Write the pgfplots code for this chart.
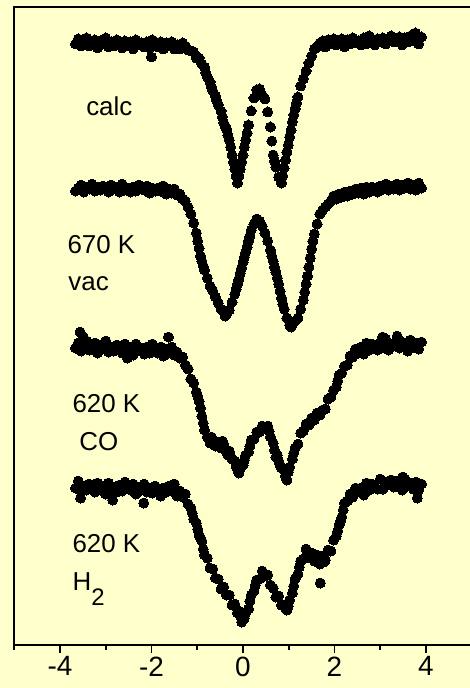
\documentclass[border=0pt]{standalone}
\usepackage{fontspec}
\setmainfont{Liberation Sans}
\usepackage{pgfplots}
\pgfplotsset{compat=1.18}
\usetikzlibrary{backgrounds}
\definecolor{paper}{HTML}{FFFFCC}
\pgfplotsset{dots/.style={black, only marks, mark=*, mark size=5bp,
    mark options={fill=black, draw=black, line width=0pt}}}

\begin{document}
\begin{tikzpicture}
\begin{axis}[
  scale only axis,
  width=457.5bp, height=637.7bp,
  xmin=-5, xmax=5,
  ymin=7.3, ymax=645, y dir=reverse,
  axis line style={line width=1.8bp},
  xtick={-4,-2,0,2,4},
  minor xtick={-5,-3,-1,1,3,5},
  xtick pos=left,
  ytick=\empty,
  tick align=outside,
  major tick length=8bp, minor tick length=5bp,
  every tick/.style={black, line width=1.8bp},
  tick label style={font=\fontsize{28}{30}\selectfont},
  /pgf/number format/assume math mode=true,
  clip=false,
]
\coordinate (bl) at (axis cs:-5,645);

% calc
\addplot[dots] coordinates {
(-3.66,44) (-3.60,39) (-3.54,46) (-3.48,41) (-3.42,38) (-3.36,46) (-3.30,43) (-3.24,40)
(-3.18,48) (-3.12,41) (-3.06,44) (-3.00,38) (-2.94,47) (-2.88,42) (-2.82,46) (-2.76,40)
(-2.70,44) (-2.64,48) (-2.58,41) (-2.52,46) (-2.46,42) (-2.40,49) (-2.34,40) (-2.28,45)
(-2.22,43) (-2.16,47) (-2.10,42) (-2.04,48) (-2.00,57) (-1.98,40) (-1.92,45) (-1.86,47)
(-1.80,42) (-1.74,49) (-1.68,43) (-1.62,46) (-1.56,42) (-1.50,49) (-1.44,45) (-1.38,49)
(-1.32,43) (-1.26,46) (-1.20,50) (-1.14,51) (-1.08,52) (-1.02,58) (-0.96,58) (-0.90,64)
(-0.84,67) (-0.81,73) (-0.78,77) (-0.72,82) (-0.69,87) (-0.66,91) (-0.60,96) (-0.57,101)
(-0.54,105) (-0.48,111) (-0.45,117)
(-0.42,123) (-0.39,126) (-0.36,129) (-0.33,135) (-0.30,140) (-0.27,147) (-0.24,155)
(-0.21,162) (-0.18,169) (-0.15,176) (-0.12,183) (-0.09,176) (-0.06,169) (-0.03,162)
(0.00,155) (0.03,147) (0.06,140) (0.09,133) (0.12,125) (0.18,111) (0.24,98) (0.30,90)
(0.36,89) (0.42,95) (0.48,99) (0.54,112) (0.60,127) (0.63,141) (0.66,155) (0.69,161)
(0.72,167) (0.78,177) (0.84,183) (0.87,176) (0.90,168) (0.93,160) (0.96,152) (0.99,145)
(1.02,137) (1.05,130) (1.08,122) (1.11,115) (1.14,109) (1.17,103) (1.20,97) (1.26,86)
(1.32,79) (1.38,71)
(1.44,63) (1.50,56) (1.56,49) (1.62,47) (1.68,43) (1.74,41) (1.80,47) (1.86,40)
(1.92,44) (1.98,39) (2.04,45) (2.10,42) (2.16,39) (2.22,47) (2.28,40) (2.34,44)
(2.40,38) (2.46,43) (2.52,41) (2.58,45) (2.64,38) (2.70,44) (2.76,36) (2.82,41)
(2.88,45) (2.94,39) (3.00,42) (3.06,38) (3.12,44) (3.18,40) (3.24,36) (3.30,42)
(3.36,40) (3.42,37) (3.48,45) (3.54,38) (3.60,42) (3.66,36) (3.72,41) (3.77,33)
(3.78,39) (3.84,44) (3.90,37)
};

% 670 K, vacuum
\addplot[dots] coordinates {
(-3.66,191) (-3.60,188) (-3.54,185) (-3.48,192) (-3.42,187) (-3.36,189) (-3.30,184)
(-3.24,191) (-3.18,187) (-3.12,190) (-3.06,186) (-3.00,188) (-2.94,192) (-2.88,185)
(-2.82,189) (-2.76,187) (-2.70,192) (-2.64,184) (-2.58,190) (-2.52,188) (-2.46,192)
(-2.40,187) (-2.34,191) (-2.28,185) (-2.22,189) (-2.16,190) (-2.10,186) (-2.04,193)
(-1.98,188) (-1.92,191) (-1.86,188) (-1.80,191) (-1.74,186) (-1.68,194) (-1.62,189)
(-1.56,193) (-1.50,189) (-1.44,195) (-1.38,194) (-1.32,199) (-1.26,201) (-1.20,207)
(-1.14,214) (-1.08,223) (-1.02,233) (-0.99,241) (-0.96,248) (-0.93,256) (-0.90,261)
(-0.87,266) (-0.84,270) (-0.78,278) (-0.72,286) (-0.66,291) (-0.60,297) (-0.54,303)
(-0.48,309)
(-0.42,312) (-0.39,316) (-0.36,314) (-0.30,310) (-0.24,302) (-0.18,294) (-0.15,289)
(-0.12,284) (-0.09,279)
(-0.06,273) (-0.03,268) (0.00,262) (0.03,257) (0.06,252) (0.09,247) (0.12,241)
(0.15,236) (0.18,230) (0.24,224) (0.30,219)
(0.36,221) (0.42,226) (0.48,233) (0.54,241) (0.60,250) (0.63,256) (0.66,261) (0.69,267)
(0.72,272) (0.75,278)
(0.78,284) (0.81,291) (0.84,298) (0.87,304) (0.90,309) (0.96,318) (1.02,325) (1.05,327)
(1.08,324)
(1.14,321) (1.20,318) (1.26,309) (1.32,300) (1.35,292) (1.38,284) (1.41,276) (1.44,267)
(1.47,258) (1.50,249) (1.53,241) (1.56,234) (1.62,224) (1.68,214) (1.74,210)
(1.80,207) (1.86,204) (1.92,201) (1.98,196) (2.04,199) (2.10,194) (2.16,197)
(2.22,192) (2.28,196) (2.34,191) (2.40,194) (2.46,189) (2.52,193) (2.58,188)
(2.64,194) (2.70,187) (2.76,192) (2.82,187) (2.88,190) (2.94,192) (3.00,186)
(3.06,189) (3.12,184) (3.18,190) (3.24,186) (3.30,189) (3.36,184) (3.42,190)
(3.48,185) (3.54,188) (3.60,183) (3.66,189) (3.72,185) (3.78,190) (3.84,183) (3.90,188)
};

% 620 K, CO
\addplot[dots] coordinates {
(-3.66,348) (-3.60,343) (-3.56,332) (-3.54,351) (-3.49,337) (-3.48,345) (-3.42,341)
(-3.36,350) (-3.30,347) (-3.24,343) (-3.18,353) (-3.12,345) (-3.06,348) (-3.00,341)
(-2.94,352) (-2.88,347) (-2.82,351) (-2.76,345) (-2.70,348) (-2.64,353) (-2.58,344)
(-2.53,358) (-2.52,351) (-2.46,347) (-2.40,355) (-2.34,344) (-2.28,350) (-2.22,348)
(-2.16,354) (-2.10,347) (-2.04,353) (-1.98,344) (-1.92,350) (-1.86,353) (-1.80,347)
(-1.74,356) (-1.68,349) (-1.63,337) (-1.62,353) (-1.56,347) (-1.50,355) (-1.44,352)
(-1.38,358) (-1.32,357) (-1.26,365) (-1.20,369) (-1.14,379) (-1.08,383) (-1.02,392)
(-0.99,396) (-0.96,401) (-0.93,408) (-0.90,416) (-0.87,423) (-0.84,430) (-0.78,437)
(-0.72,443) (-0.69,437) (-0.66,440)
(-0.63,445) (-0.60,446) (-0.54,442) (-0.51,447) (-0.48,448) (-0.45,441) (-0.42,444)
(-0.36,452) (-0.33,455) (-0.30,451) (-0.27,456) (-0.24,459) (-0.18,461) (-0.15,466)
(-0.12,469) (-0.09,473) (-0.06,468) (0.00,465) (0.03,460) (0.06,455) (0.12,452)
(0.15,446) (0.18,440)
(0.24,439) (0.30,432) (0.36,432) (0.42,426) (0.48,427) (0.54,426) (0.57,431) (0.60,437)
(0.66,443) (0.69,450) (0.72,457) (0.75,455) (0.78,461) (0.81,465) (0.84,468) (0.90,470)
(0.93,476) (0.96,480) (0.99,472) (1.02,467) (1.08,459) (1.11,453) (1.14,448) (1.20,444)
(1.26,433) (1.32,431) (1.38,424) (1.44,425) (1.50,418) (1.56,420) (1.62,413)
(1.68,415) (1.74,410) (1.80,409) (1.86,399) (1.92,397) (1.98,390) (2.04,387)
(2.07,381) (2.10,375) (2.16,373) (2.22,366) (2.28,365) (2.34,356) (2.40,357) (2.46,349)
(2.52,353) (2.58,347) (2.64,354) (2.70,343) (2.76,350) (2.82,344) (2.88,346)
(2.94,350) (3.00,343) (3.05,337) (3.06,347) (3.12,339) (3.18,350) (3.24,344)
(3.30,346) (3.36,341) (3.37,336) (3.42,348) (3.48,342) (3.54,345) (3.60,351)
(3.66,340) (3.72,347) (3.78,343) (3.84,349) (3.90,342)
};

% 620 K, H2
\addplot[dots] coordinates {
(-3.66,488) (-3.60,481) (-3.55,498) (-3.54,491) (-3.48,486) (-3.42,490) (-3.36,484)
(-3.30,487) (-3.24,492) (-3.18,483) (-3.12,490) (-3.06,486) (-3.00,494) (-2.94,483)
(-2.88,489) (-2.85,500) (-2.82,487) (-2.76,492) (-2.70,485) (-2.64,491) (-2.58,482)
(-2.52,488) (-2.46,490) (-2.40,484) (-2.34,494) (-2.28,487) (-2.22,490) (-2.17,503)
(-2.16,484) (-2.10,492) (-2.04,488) (-1.98,493) (-1.92,486) (-1.86,489) (-1.80,496)
(-1.74,488) (-1.68,492) (-1.62,486) (-1.56,491) (-1.50,484) (-1.44,496) (-1.38,491)
(-1.32,497) (-1.26,494) (-1.20,504) (-1.14,508) (-1.11,513) (-1.08,519) (-1.02,523)
(-0.99,529) (-0.96,535) (-0.93,538)
(-0.90,541) (-0.87,549) (-0.84,555) (-0.78,558) (-0.72,568) (-0.66,569) (-0.60,578)
(-0.54,579)
(-0.48,589) (-0.42,587) (-0.36,595) (-0.30,595) (-0.24,605) (-0.18,604) (-0.12,613)
(-0.09,611) (-0.06,616) (-0.03,622) (0.00,620) (0.03,618) (0.06,613) (0.12,609)
(0.15,601) (0.18,595) (0.24,591) (0.27,585) (0.30,580) (0.36,579) (0.42,571) (0.48,576)
(0.54,575)
(0.60,585) (0.66,588) (0.72,597) (0.78,596) (0.84,605) (0.90,605) (0.93,608)
(0.96,610) (0.99,606) (1.02,600) (1.08,593) (1.11,586) (1.14,579) (1.20,574) (1.23,567)
(1.26,561)
(1.32,559) (1.38,549) (1.41,553) (1.44,557) (1.50,553) (1.53,558) (1.56,561)
(1.62,555) (1.65,559) (1.68,564) (1.69,583) (1.74,556) (1.77,562) (1.80,560)
(1.86,550) (1.92,551) (1.98,540) (2.04,536) (2.07,531) (2.10,525) (2.13,521) (2.16,517)
(2.19,510) (2.22,503)
(2.28,501) (2.34,494) (2.40,497) (2.46,488) (2.52,491) (2.58,488) (2.64,495)
(2.70,483) (2.76,490) (2.82,484) (2.88,486) (2.94,489) (3.00,479) (3.06,489)
(3.12,482) (3.18,484) (3.24,480) (3.30,487) (3.36,481) (3.42,484) (3.48,490)
(3.49,477) (3.54,479) (3.60,486) (3.66,483) (3.72,489) (3.78,482) (3.81,498)
(3.84,490) (3.90,484)
};

\begin{scope}[every node/.style={anchor=base west, inner sep=0pt,
    font=\fontsize{26}{28}\selectfont}]
\node at (axis cs:-3.43,115) {calc};
\node at (axis cs:-3.84,253) {670 K};
\node at (axis cs:-3.82,290) {vac};
\node at (axis cs:-3.73,412.7) {620 K};
\node at (axis cs:-3.58,450) {CO};
\node at (axis cs:-3.73,552.7) {620 K};
\node at (axis cs:-3.73,590) {H\raisebox{-15bp}{\fontsize{24}{26}\selectfont 2}};
\end{scope}
\end{axis}

\begin{scope}[on background layer]
\fill[paper] (bl) ++(-14.25bp,-43bp) rectangle ++(470bp,688bp);
\end{scope}
\pgfresetboundingbox
\path[use as bounding box] (bl) ++(-14.25bp,-43bp) rectangle ++(470bp,688bp);
\end{tikzpicture}
\end{document}
